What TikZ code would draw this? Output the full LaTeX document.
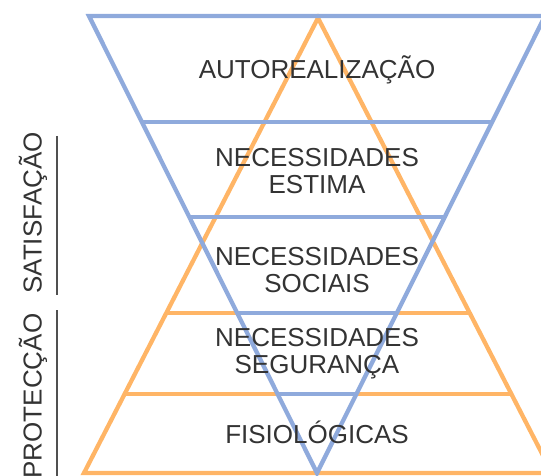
\documentclass[tikz,border=0pt]{standalone}
\usepackage{fontspec}
\setmainfont{Liberation Sans}
\usetikzlibrary{calc}
\definecolor{pblue}{HTML}{8FAADC}
\definecolor{porange}{HTML}{FFB566}
\definecolor{ptext}{HTML}{333333}
\definecolor{pbar}{HTML}{505050}
\begin{document}
\begin{tikzpicture}[x=1pt,y=-1pt,
  oline/.style={draw=porange,line width=4.3pt},
  bline/.style={draw=pblue,line width=4.3pt},
  lbl/.style={text=ptext,font=\fontsize{26}{27}\selectfont,align=center,inner sep=0pt},
  sidelbl/.style={lbl,rotate=90},
  sidebar/.style={draw=pbar,line width=2.5pt}]
\useasboundingbox (0,0) rectangle (541,476);
% orange pyramid
\coordinate (OA) at (318,18);
\coordinate (OL) at (84,473);
\coordinate (OR) at (552,473);
\draw[oline] (OA) -- (OL) -- (OR) -- cycle;
\draw[oline] ($(OA)!0.648!(OL)$) -- ($(OA)!0.648!(OR)$);
\draw[oline] ($(OA)!0.826!(OL)$) -- ($(OA)!0.826!(OR)$);
% blue inverted pyramid
\coordinate (BL) at (89,16);
\coordinate (BR) at (545,16);
\coordinate (BA) at (317,473);
\draw[bline] (BL) -- (BR) -- (BA) -- cycle;
\foreach \t in {0.232,0.440,0.650,0.827}
  \draw[bline] ($(BL)!\t!(BA)$) -- ($(BR)!\t!(BA)$);
% labels
\node[lbl] (auto) at (317,70) {AUTOREALIZAÇÃO};
\node[lbl] (estima) at (317,171) {NECESSIDADES\\ESTIMA};
\node[lbl] (sociais) at (317,270) {NECESSIDADES\\SOCIAIS};
\node[lbl] (seg) at (317,354) {NECESSIDADES\\SEGURANÇA};
\node[lbl] (fisio) at (317,432) {FISIOLÓGICAS};
% side labels
\node[sidelbl] (sat) at (33,213) {SATISFAÇÃO};
\node[sidelbl] (prot) at (33,396) {PROTECÇÃO};
\coordinate (s1) at (57,136);
\coordinate (s2) at (57,295);
\coordinate (p1) at (57,310);
\coordinate (p2) at (57,478);
\draw[sidebar] (s1) -- (s2);
\draw[sidebar] (p1) -- (p2);
\end{tikzpicture}
\end{document}
